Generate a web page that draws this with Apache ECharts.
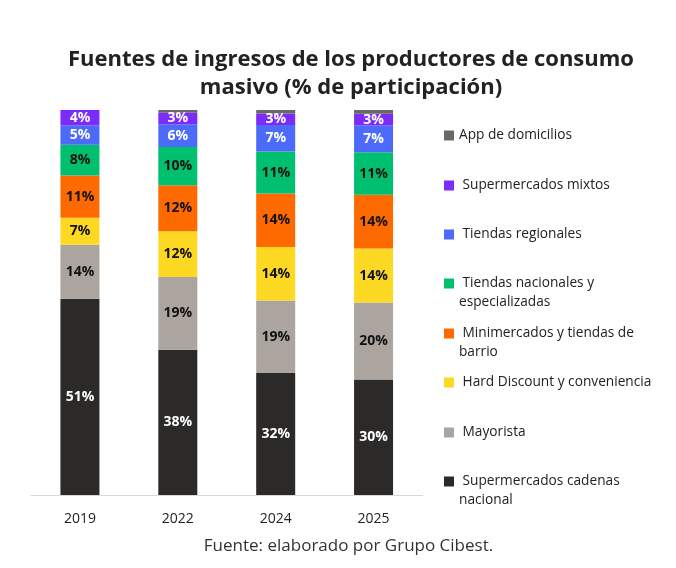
<!DOCTYPE html>
<html>
<head>
<meta charset="utf-8">
<script src="https://cdn.jsdelivr.net/npm/echarts@6/dist/echarts.min.js"></script>
<style>
html,body{margin:0;padding:0;background:#fff;}
#chart{width:676px;height:568px;}
</style>
</head>
<body>
<div id="chart"></div>
<script>
const years = ['2019', '2022', '2024', '2025'];
const seriesNames = [
  'Supermercados cadenas nacional',
  'Mayorista',
  'Hard Discount y conveniencia',
  'Minimercados y tiendas de barrio',
  'Tiendas nacionales y especializadas',
  'Tiendas regionales',
  'Supermercados mixtos',
  'App de domicilios'
];
const legendLabels = [
  'Supermercados cadenas\nnacional',
  'Mayorista',
  'Hard Discount y conveniencia',
  'Minimercados y tiendas de\nbarrio',
  'Tiendas nacionales y\nespecializadas',
  'Tiendas regionales',
  'Supermercados mixtos',
  'App de domicilios'
];
// Values (% of participation) as printed on the chart
const supermercadosNacional = [51, 38, 32, 30];
const mayorista = [14, 19, 19, 20];
const hardDiscount = [7, 12, 14, 14];
const minimercados = [11, 12, 14, 14];
const tiendasNacionales = [8, 10, 11, 11];
const tiendasRegionales = [5, 6, 7, 7];
const supermercadosMixtos = [4, 3, 3, 3];
const appDomicilios = [0, 0.7, 0.9, 1.0];
const seriesValues = [supermercadosNacional, mayorista, hardDiscount, minimercados,
  tiendasNacionales, tiendasRegionales, supermercadosMixtos, appDomicilios];
const colors = ['#2b2a29', '#aca59f', '#fdd923', '#ff6a00', '#00bf6f', '#4d6bfb', '#7b2cfa', '#6d6863'];
const labelColors = ['#ffffff', '#111111', '#111111', '#111111', '#111111', '#ffffff', '#ffffff', '#111111'];
const legendY = [480, 431, 381, 332, 282, 233, 184, 134];

// 100% stacked: each bar normalised to its own total
const totals = years.map((_, j) => seriesValues.reduce((s, arr) => s + arr[j], 0));

const chart = echarts.init(document.getElementById('chart'));
const series = seriesNames.map((name, i) => ({
  name: name,
  type: 'bar',
  stack: 'total',
  barWidth: 39,
  data: seriesValues[i].map((v, j) => ({ value: v / totals[j] * 100, raw: v })),
  itemStyle: { color: colors[i] },
  label: {
    show: i !== 7,
    position: 'inside',
    formatter: p => p.data.raw + '%',
    color: labelColors[i],
    fontFamily: 'Open Sans',
    fontWeight: 'bold',
    fontSize: 14
  }
}));
const legends = seriesNames.map((name, i) => {
  const multi = legendLabels[i].indexOf('\n') >= 0;
  const lead = i === 7 ? '' : ' ';
  return {
    data: [name],
    left: 444,
    top: multi ? legendY[i] - 27 : legendY[i] - 8,
    padding: 0,
    itemWidth: 10,
    itemHeight: 10,
    itemGap: 0,
    icon: 'rect',
    selectedMode: false,
    formatter: () => (multi ? '\n' : '') + lead + legendLabels[i],
    textStyle: {
      fontFamily: 'Open Sans',
      fontSize: 13.7,
      color: '#222',
      lineHeight: 19
    }
  };
});
chart.setOption({
  backgroundColor: '#ffffff',
  animation: false,
  title: {
    text: 'Fuentes de ingresos de los productores de consumo\nmasivo (% de participación)',
    left: 346,
    textAlign: 'center',
    top: 41,
    textStyle: {
      fontFamily: 'Open Sans',
      fontWeight: 'bold',
      fontSize: 22,
      lineHeight: 28,
      color: '#222'
    }
  },
  legend: legends,
  grid: { left: 31, right: 253.5, top: 110, bottom: 73 },
  xAxis: {
    type: 'category',
    data: years,
    axisLine: { lineStyle: { color: '#d9d9d9', width: 1 } },
    axisTick: { show: false },
    axisLabel: { color: '#222', fontFamily: 'Open Sans', fontSize: 14, margin: 17 }
  },
  yAxis: {
    type: 'value',
    min: 0,
    max: 100,
    show: false
  },
  graphic: [{
    type: 'text',
    x: 348.5,
    y: 546,
    style: {
      text: 'Fuente: elaborado por Grupo Cibest.',
      fontFamily: 'Open Sans',
      fontSize: 17,
      fill: '#333',
      align: 'center',
      verticalAlign: 'middle'
    }
  }],
  series: series
});
</script>
</body>
</html>
